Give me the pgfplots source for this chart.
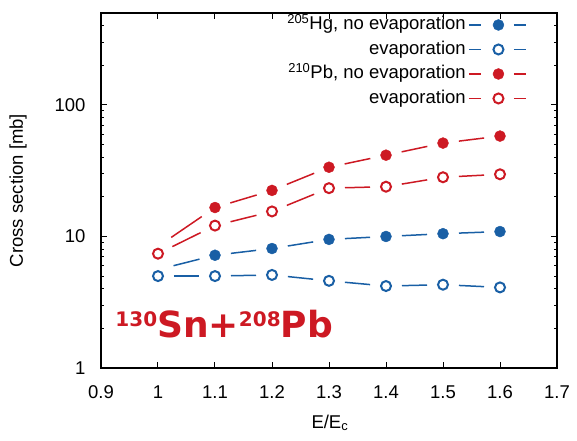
\documentclass[border=0pt]{standalone}
\usepackage{pgfplots}
\pgfplotsset{compat=1.18}
\usepackage{fontspec}
\setmainfont{Liberation Sans}
\newfontfamily\bigfont{DejaVu Sans}
\definecolor{cblue}{RGB}{25,95,165}
\definecolor{cred}{RGB}{205,25,35}
\newcommand\sps[1]{\raisebox{11.5pt}{\fontsize{20}{20}\selectfont #1}}
% seg={colour}{visible length in pt}: a segment with a 16pt gap at each end
\pgfplotsset{seg/.style 2 args={#1, line width=1.5pt, no markers, forget plot, dash pattern=on 0pt off 16pt on #2pt off 80pt}}
\begin{document}
\begin{tikzpicture}
\begin{axis}[
  scale only axis, width=456pt, height=355pt,
  xmin=0.9, xmax=1.7, ymin=1, ymax=500, ymode=log,
  xtick={0.9,1.0,1.1,1.2,1.3,1.4,1.5,1.6,1.7},
  xticklabels={0.9,1,1.1,1.2,1.3,1.4,1.5,1.6,1.7},
  ytick={1,10,100}, yticklabels={1,10,100},
  minor ytick={2,3,4,5,6,7,8,9,20,30,40,50,60,70,80,90,200,300,400},
  tick align=inside, major tick length=6pt, minor tick length=3.5pt,
  tick style={black, line width=1pt},
  axis line style={line width=1.3pt},
  font=\fontsize{18.5}{21}\selectfont,
  /pgf/number format/assume math mode=true,
  xticklabel style={anchor=center, yshift=-24pt},
  yticklabel style={xshift=-12pt},
  xlabel={E/E\textsubscript{c}},
  ylabel={Cross section [mb]},
  xlabel style={at={(axis description cs:0.502,-0.155)}, anchor=center},
  ylabel style={at={(axis description cs:-0.182,0.5)}, anchor=center},
  legend plot pos=right, legend cell align=right,
  legend style={at={(rel axis cs:0.934,0.995)}, anchor=north east, draw=none, fill=none,
    inner sep=0pt, row sep=4.5pt, nodes={inner sep=1pt, text height=14pt, text depth=4pt},
    font=\fontsize{18.5}{21}\selectfont},
]
% 205Hg no evaporation
\addplot[seg={cblue}{26.78}] coordinates {(1.0,5.6)(1.1,7.2)};
\addplot[seg={cblue}{25.40}] coordinates {(1.1,7.2)(1.2,8.1)};
\addplot[seg={cblue}{25.72}] coordinates {(1.2,8.1)(1.3,9.5)};
\addplot[seg={cblue}{25.08}] coordinates {(1.3,9.5)(1.4,10.0)};
\addplot[seg={cblue}{25.07}] coordinates {(1.4,10.0)(1.5,10.5)};
\addplot[seg={cblue}{25.04}] coordinates {(1.5,10.5)(1.6,10.9)};
\addplot[only marks, cblue, mark=*, mark size=5.5pt,
  legend image code/.code={\path (0pt,0pt); \draw[cblue,line width=1.5pt] (2pt,0pt)--(14pt,0pt) (47pt,0pt)--(59pt,0pt); \draw[cblue,mark=*,mark size=5.5pt] plot coordinates {(31.5pt,0pt)};}]
  coordinates {(1.1,7.2)(1.2,8.1)(1.3,9.5)(1.4,10.0)(1.5,10.5)(1.6,10.9)};
\addlegendentry{\textsuperscript{205}Hg, no evaporation}
% 205Hg evaporation
\addplot[seg={cblue}{25.00}] coordinates {(1.0,5.0)(1.1,5.0)};
\addplot[seg={cblue}{25.01}] coordinates {(1.1,5.0)(1.2,5.1)};
\addplot[seg={cblue}{25.30}] coordinates {(1.2,5.1)(1.3,4.6)};
\addplot[seg={cblue}{25.24}] coordinates {(1.3,4.6)(1.4,4.2)};
\addplot[seg={cblue}{25.02}] coordinates {(1.4,4.2)(1.5,4.3)};
\addplot[seg={cblue}{25.06}] coordinates {(1.5,4.3)(1.6,4.1)};
\addplot[only marks, cblue, mark=*, mark size=5pt, mark options={fill=white, line width=2pt},
  legend image code/.code={\path (0pt,0pt); \draw[cblue,line width=1.5pt] (2pt,0pt)--(14pt,0pt) (47pt,0pt)--(59pt,0pt); \draw[cblue,mark=*,mark size=5pt,mark options={fill=white,line width=2pt}] plot coordinates {(31.5pt,0pt)};}]
  coordinates {(1.0,5.0)(1.1,5.0)(1.2,5.1)(1.3,4.6)(1.4,4.2)(1.5,4.3)(1.6,4.1)};
\addlegendentry{evaporation}
% 210Pb no evaporation
\addplot[seg={cred}{37.01}] coordinates {(1.0,8.4)(1.1,16.6)};
\addplot[seg={cred}{27.51}] coordinates {(1.1,16.6)(1.2,22.4)};
\addplot[seg={cred}{29.53}] coordinates {(1.2,22.4)(1.3,33.6)};
\addplot[seg={cred}{26.26}] coordinates {(1.3,33.6)(1.4,41.5)};
\addplot[seg={cred}{26.27}] coordinates {(1.4,41.5)(1.5,51.3)};
\addplot[seg={cred}{25.43}] coordinates {(1.5,51.3)(1.6,58)};
\addplot[only marks, cred, mark=*, mark size=5.5pt,
  legend image code/.code={\path (0pt,0pt); \draw[cred,line width=1.5pt] (2pt,0pt)--(14pt,0pt) (47pt,0pt)--(59pt,0pt); \draw[cred,mark=*,mark size=5.5pt] plot coordinates {(31.5pt,0pt)};}]
  coordinates {(1.1,16.6)(1.2,22.4)(1.3,33.6)(1.4,41.5)(1.5,51.3)(1.6,58)};
\addlegendentry{\textsuperscript{210}Pb, no evaporation}
% 210Pb evaporation
\addplot[seg={cred}{31.54}] coordinates {(1.0,7.4)(1.1,12.1)};
\addplot[seg={cred}{26.73}] coordinates {(1.1,12.1)(1.2,15.5)};
\addplot[seg={cred}{29.57}] coordinates {(1.2,15.5)(1.3,23.3)};
\addplot[seg={cred}{25.02}] coordinates {(1.3,23.3)(1.4,23.9)};
\addplot[seg={cred}{25.78}] coordinates {(1.4,23.9)(1.5,28.2)};
\addplot[seg={cred}{25.08}] coordinates {(1.5,28.2)(1.6,29.7)};
\addplot[only marks, cred, mark=*, mark size=5pt, mark options={fill=white, line width=2pt},
  legend image code/.code={\path (0pt,0pt); \draw[cred,line width=1.5pt] (2pt,0pt)--(14pt,0pt) (47pt,0pt)--(59pt,0pt); \draw[cred,mark=*,mark size=5pt,mark options={fill=white,line width=2pt}] plot coordinates {(31.5pt,0pt)};}]
  coordinates {(1.0,7.4)(1.1,12.1)(1.2,15.5)(1.3,23.3)(1.4,23.9)(1.5,28.2)(1.6,29.7)};
\addlegendentry{evaporation}
\node[anchor=west, text=cred, inner sep=0pt] at (axis cs:0.925,2.15)
  {\bigfont\bfseries\fontsize{36}{36}\selectfont\sps{130}Sn+\sps{208}Pb};
\coordinate (SW) at (rel axis cs:0,0);
\end{axis}
\pgfresetboundingbox
\path[use as bounding box] (SW) ++(-101pt,-72pt) rectangle ++(577pt,440pt);
\end{tikzpicture}
\end{document}
